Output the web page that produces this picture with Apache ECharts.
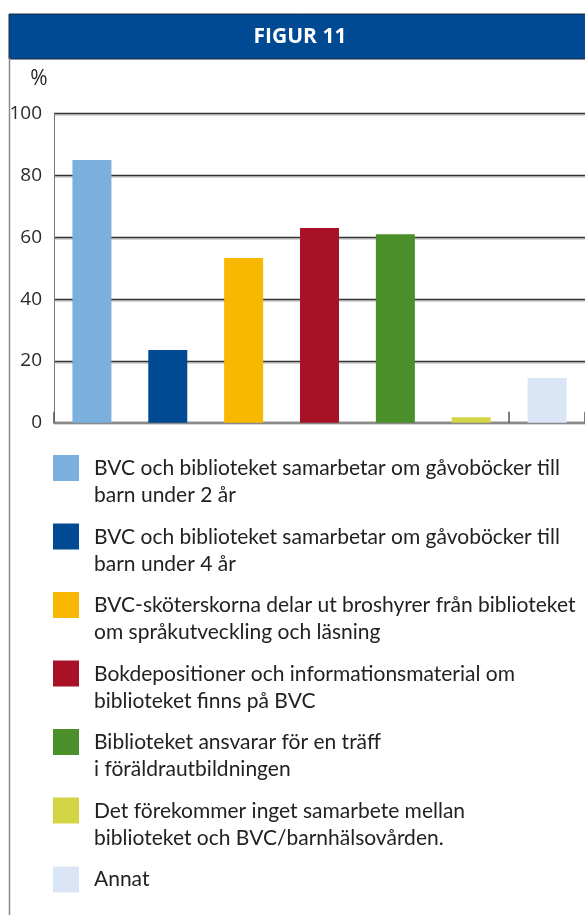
<!DOCTYPE html>
<html>
<head>
<meta charset="utf-8">
<script src="https://cdn.jsdelivr.net/npm/echarts@6/dist/echarts.min.js"></script>
<style>
html,body{margin:0;padding:0;background:#fff;}
#chart{width:585px;height:915px;}
</style>
</head>
<body>
<div id="chart"></div>
<script>
var titleText = 'FIGUR 11';
var unitLabel = '%';
var categories = [
  'BVC och biblioteket samarbetar om gåvoböcker till\nbarn under 2 år',
  'BVC och biblioteket samarbetar om gåvoböcker till\nbarn under 4 år',
  'BVC-sköterskorna delar ut broshyrer från biblioteket\nom språkutveckling och läsning',
  'Bokdepositioner och informationsmaterial om\nbiblioteket finns på BVC',
  'Biblioteket ansvarar för en träff\ni föräldrautbildningen',
  'Det förekommer inget samarbete mellan\nbiblioteket och BVC/barnhälsovården.',
  'Annat'
];
var values = [85, 23.5, 53.3, 63, 61, 1.8, 14.5];
var colors = ['#7AAFDE', '#004A94', '#F9B800', '#A91226', '#4B8F2A', '#D4D545', '#DAE6F6'];
var yTicks = [0, 20, 40, 60, 80, 100];

var FONT = '"Open Sans", "Noto Sans", sans-serif';
var LEGEND_FONT = 'Lato, "Open Sans", sans-serif';

// legend swatch shapes
var ICON_TOP = 'path://M0,0h26v26h-26z M0,53.99h0.01v0.01h-0.01z'; // square next to first of two lines
var ICON_SQ = 'path://M0,0h26v26h-26z';                            // plain square (single line)

var series = categories.map(function (name, i) {
  var data = categories.map(function (c, j) { return j === i ? values[i] : '-'; });
  return {
    name: name,
    type: 'bar',
    data: data,
    barWidth: 39,
    barGap: '-100%',
    itemStyle: { color: colors[i] },
    emphasis: { disabled: true },
    silent: true
  };
});

var legendData = categories.map(function (name) {
  var twoLine = name.indexOf('\n') >= 0;
  return { name: name, icon: twoLine ? ICON_TOP : ICON_SQ, symbolKeepAspect: true };
});

var chart = echarts.init(document.getElementById('chart'), null, { renderer: 'canvas' });
chart.setOption({
  animation: false,
  backgroundColor: '#fff',
  textStyle: { fontFamily: FONT },
  grid: { left: 54, top: 113.7, width: 538, height: 309, containLabel: false },
  xAxis: {
    type: 'category',
    data: categories,
    axisLine: { lineStyle: { color: '#8a8a8a', width: 2 } },
    axisTick: { show: true, inside: true, length: 11, lineStyle: { color: '#555', width: 1.5 } },
    axisLabel: { show: false },
    splitLine: { show: false }
  },
  yAxis: {
    type: 'value',
    min: yTicks[0],
    max: yTicks[yTicks.length - 1],
    interval: yTicks[1] - yTicks[0],
    axisLine: { show: true, lineStyle: { color: '#777', width: 1 } },
    axisTick: { show: false },
    axisLabel: { margin: 12, fontSize: 19, color: '#2a2a2a', fontFamily: FONT },
    splitLine: { lineStyle: { color: '#333', width: 1.3, shadowColor: '#c8c8c8', shadowOffsetY: 1.5, shadowBlur: 0 } }
  },
  legend: {
    orient: 'vertical',
    left: 53,
    top: 455,
    height: 600,
    padding: 0,
    itemWidth: 26,
    itemHeight: 54,
    itemGap: 14.5,
    symbolKeepAspect: true,
    selectedMode: false,
    textStyle: { fontSize: 21, lineHeight: 27, color: '#222', fontFamily: LEGEND_FONT, padding: [0, 0, 0, 10] },
    data: legendData
  },
  graphic: [
    { type: 'rect', shape: { x: 9, y: 14, width: 580, height: 45 }, style: { fill: '#004A94', stroke: '#1b2a3c', lineWidth: 1 }, silent: true },
    { type: 'line', shape: { x1: 9.5, y1: 58, x2: 9.5, y2: 915 }, style: { stroke: '#8a8a8a', lineWidth: 1.5 }, silent: true },
    { type: 'text', x: 300, y: 37, style: { text: titleText, fill: '#fff', font: 'bold 21px ' + FONT, align: 'center', verticalAlign: 'middle' }, silent: true },
    { type: 'text', x: 39, y: 79, style: { text: unitLabel, fill: '#2a2a2a', font: '21px ' + FONT, align: 'center', verticalAlign: 'middle' }, silent: true }
  ],
  series: series
});
</script>
</body>
</html>
